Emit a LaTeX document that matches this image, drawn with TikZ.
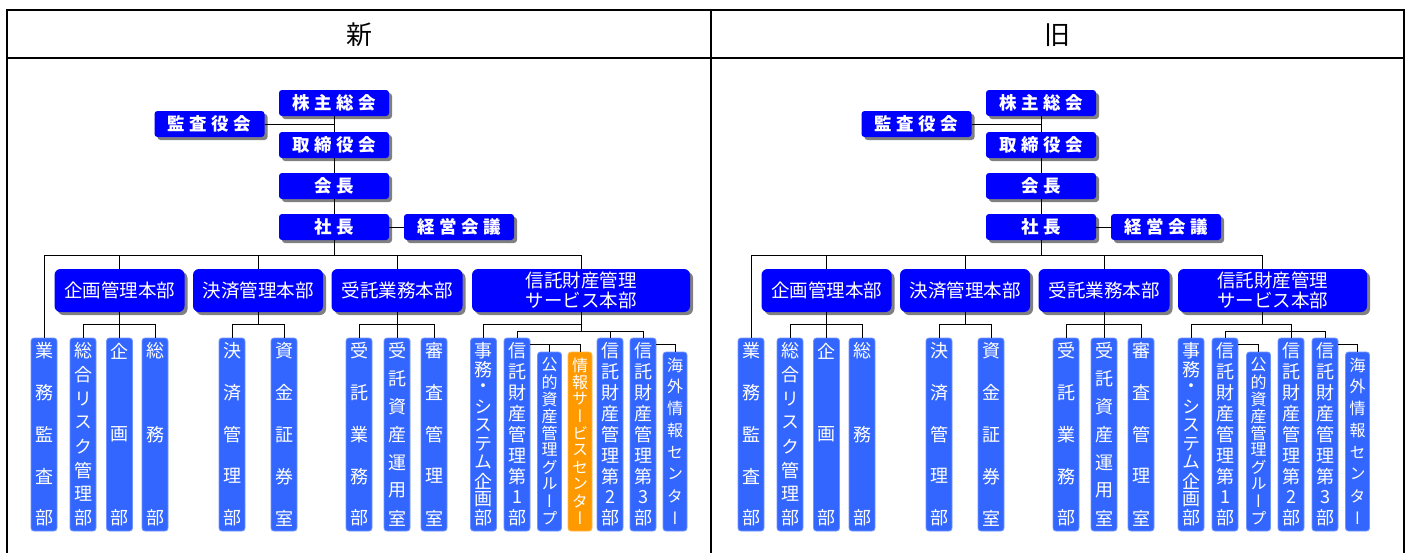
\documentclass[tikz,border=0pt]{standalone}
\usepackage{fontspec}
\setmainfont{Noto Sans CJK JP}
\newfontfamily\vjp[RawFeature=+vert]{Noto Sans CJK JP}
\usetikzlibrary{shadows}
\definecolor{hqc}{RGB}{0,0,255}
\definecolor{leafc}{RGB}{51,102,255}
\definecolor{orangec}{RGB}{255,153,0}
\definecolor{shadowc}{RGB}{128,128,128}
\newcommand{\lsp}{\hspace{4.5pt}}
\newcommand{\vstk}[2]{\vbox to #1pt{\offinterlineskip\foreach \ch [count=\ci] in {#2}{\ifnum\ci>1 \vfill\fi\vbox to 0pt{\vss\hbox to 0pt{\hss\ch\hss}\vss}}}}
\tikzset{
  shad/.style={general shadow={shadow xshift=3pt, shadow yshift=-3pt, fill=shadowc}},
  topbox/.style={shad, fill=hqc, text=white, rounded corners=3pt, minimum width=110pt, minimum height=26pt, inner sep=0pt, font=\bfseries\fontsize{17.5}{20}\selectfont},
  hqbox/.style={shad, fill=hqc, text=white, rounded corners=6pt, minimum height=43pt, inner sep=0pt, align=center, font=\fontsize{18.5}{20}\selectfont},
  leaf/.style={fill=leafc, draw=leafc!70!white, line width=0.8pt, text=white, rounded corners=3pt, minimum width=26pt, minimum height=193pt, inner sep=0pt, font={\vjp\fontsize{18}{18}\selectfont}},
  shortleaf/.style={leaf, minimum width=24pt, minimum height=179pt, font={\vjp\fontsize{16}{16}\selectfont}},
  conn/.style={draw=black, line width=1pt},
  framel/.style={draw=black, line width=2pt},
  title/.style={font=\fontsize{26}{26}\selectfont}
}
\begin{document}
\begin{tikzpicture}[x=1pt, y=-1pt]
\useasboundingbox (0,0) rectangle (1412,552);
% frame
\draw[framel] (7,570) -- (7,10) -- (1404,10) -- (1404,570);
\draw[framel] (7,58) -- (1404,58);
\draw[framel] (711,10) -- (711,570);
\node[title] (titleL) at (359,35) {新};
\node[title] (titleR) at (1057,35) {旧};
\coordinate (busL) at (334,255);
\coordinate (subL) at (0,324);
\coordinate (sub2L) at (0,331);
\coordinate (sub3L) at (0,344);
\coordinate (busR) at (1041,255);
\coordinate (dropR) at (1262,0);
% ===== left panel =====
\node[topbox] (kabuL) at (334,103) {株\lsp 主\lsp 総\lsp 会};
\node[topbox] (kansaL) at (209.5,124) {監\lsp 査\lsp 役\lsp 会};
\node[topbox] (toriL) at (334,145) {取\lsp 締\lsp 役\lsp 会};
\node[topbox] (kaichoL) at (334,186) {会\lsp 長};
\node[topbox] (shachoL) at (334,227) {社\lsp 長};
\node[topbox] (keieiL) at (459,227) {経\lsp 営\lsp 会\lsp 議};
\node[hqbox, minimum width=130pt] (kikakuL) at (119.5,290.5) {企画管理本部};
\node[hqbox, minimum width=130pt] (kessaiL) at (258,290.5) {決済管理本部};
\node[hqbox, minimum width=131pt] (jutakuL) at (397,290.5) {受託業務本部};
\node[hqbox, minimum width=218pt] (shintakuL) at (581,290.5) {信託財産管理\\サービス本部};
\node[leaf] (gyomuL) at (44,434.5) {\vstk{167}{業,務,監,査,部}};
\node[leaf] (sogoL) at (83,434.5) {\vstk{167}{総,合,リ,ス,ク,管,理,部}};
\node[leaf] (kikakubuL) at (119.5,434.5) {\vstk{167}{企,画,部}};
\node[leaf] (somuL) at (155,434.5) {\vstk{167}{総,務,部}};
\node[leaf] (kessaibuL) at (232,434.5) {\vstk{167}{決,済,管,理,部}};
\node[leaf] (shikinL) at (284,434.5) {\vstk{167}{資,金,証,券,室}};
\node[leaf] (jutakubuL) at (359,434.5) {\vstk{167}{受,託,業,務,部}};
\node[leaf] (unyoL) at (397,434.5) {\vstk{167}{受,託,資,産,運,用,室}};
\node[leaf] (shinsaL) at (434,434.5) {\vstk{167}{審,査,管,理,室}};
\node[leaf] (jimuL) at (483.5,434.5) {\vstk{167}{事,務,・,シ,ス,テ,ム,企,画,部}};
\node[leaf] (t1L) at (517,434.5) {\vstk{167}{信,託,財,産,管,理,第,1,部}};
\node[shortleaf] (kotekiL) at (549.5,441.5) {\vstk{153}{公,的,資,産,管,理,グ,ル,ー,プ}};
\node[shortleaf, fill=orangec, draw=orangec!70!white] (johoL) at (580,441.5) {\vstk{153}{情,報,サ,ー,ビ,ス,セ,ン,タ,ー}};
\node[leaf] (t2L) at (610,434.5) {\vstk{167}{信,託,財,産,管,理,第,2,部}};
\node[leaf] (t3L) at (643,434.5) {\vstk{167}{信,託,財,産,管,理,第,3,部}};
\node[shortleaf] (kaigaiL) at (675,441.5) {\vstk{153}{海,外,情,報,セ,ン,タ,ー}};
% connectors left
\draw[conn] (kansaL.east) -- (kansaL.east -| kabuL.south);
\draw[conn] (kabuL.south) -- (toriL.north);
\draw[conn] (toriL.south) -- (kaichoL.north);
\draw[conn] (kaichoL.south) -- (shachoL.north);
\draw[conn] (shachoL.east) -- (keieiL.west);
\draw[conn] (shachoL.south) -- (busL);
\draw[conn] (gyomuL.north) -- (gyomuL.north |- busL) -- (shintakuL.north |- busL) -- (shintakuL.north);
\draw[conn] (kikakuL.north) -- (kikakuL.north |- busL);
\draw[conn] (kessaiL.north) -- (kessaiL.north |- busL);
\draw[conn] (jutakuL.north) -- (jutakuL.north |- busL);
\draw[conn] (kikakuL.south) -- (kikakubuL.north);
\draw[conn] (sogoL.north) -- (sogoL.north |- subL) -- (somuL.north |- subL) -- (somuL.north);
\draw[conn] (kessaiL.south) -- (kessaiL.south |- subL);
\draw[conn] (kessaibuL.north) -- (kessaibuL.north |- subL) -- (shikinL.north |- subL) -- (shikinL.north);
\draw[conn] (jutakuL.south) -- (unyoL.north);
\draw[conn] (jutakubuL.north) -- (jutakubuL.north |- subL) -- (shinsaL.north |- subL) -- (shinsaL.north);
\draw[conn] (shintakuL.south) -- (shintakuL.south |- sub2L);
\draw[conn] (jimuL.north) -- (jimuL.north |- subL) -- (shintakuL.south |- subL);
\draw[conn] (t1L.north) -- (t1L.north |- sub2L) -- (t3L.north |- sub2L) -- (t3L.north);
\draw[conn] (t2L.north) -- (t2L.north |- sub2L);
\draw[conn] (t1L.east |- sub3L) -- (johoL.north |- sub3L) -- (johoL.north);
\draw[conn] (kotekiL.north) -- (kotekiL.north |- sub3L);
\draw[conn] (t3L.east |- sub3L) -- (kaigaiL.north |- sub3L) -- (kaigaiL.north);
% ===== right panel =====
\node[topbox] (kabuR) at (1041,103) {株\lsp 主\lsp 総\lsp 会};
\node[topbox] (kansaR) at (916.5,124) {監\lsp 査\lsp 役\lsp 会};
\node[topbox] (toriR) at (1041,145) {取\lsp 締\lsp 役\lsp 会};
\node[topbox] (kaichoR) at (1041,186) {会\lsp 長};
\node[topbox] (shachoR) at (1041,227) {社\lsp 長};
\node[topbox] (keieiR) at (1166,227) {経\lsp 営\lsp 会\lsp 議};
\node[hqbox, minimum width=130pt] (kikakuR) at (826.5,290.5) {企画管理本部};
\node[hqbox, minimum width=130pt] (kessaiR) at (965,290.5) {決済管理本部};
\node[hqbox, minimum width=131pt] (jutakuR) at (1104,290.5) {受託業務本部};
\node[hqbox, minimum width=189pt] (shintakuR) at (1272.5,290.5) {信託財産管理\\サービス本部};
\node[leaf] (gyomuR) at (751,434.5) {\vstk{167}{業,務,監,査,部}};
\node[leaf] (sogoR) at (790,434.5) {\vstk{167}{総,合,リ,ス,ク,管,理,部}};
\node[leaf] (kikakubuR) at (826.5,434.5) {\vstk{167}{企,画,部}};
\node[leaf] (somuR) at (862,434.5) {\vstk{167}{総,務,部}};
\node[leaf] (kessaibuR) at (939,434.5) {\vstk{167}{決,済,管,理,部}};
\node[leaf] (shikinR) at (991,434.5) {\vstk{167}{資,金,証,券,室}};
\node[leaf] (jutakubuR) at (1066,434.5) {\vstk{167}{受,託,業,務,部}};
\node[leaf] (unyoR) at (1104,434.5) {\vstk{167}{受,託,資,産,運,用,室}};
\node[leaf] (shinsaR) at (1141,434.5) {\vstk{167}{審,査,管,理,室}};
\node[leaf] (jimuR) at (1191,434.5) {\vstk{167}{事,務,・,シ,ス,テ,ム,企,画,部}};
\node[leaf] (t1R) at (1225,434.5) {\vstk{167}{信,託,財,産,管,理,第,1,部}};
\node[shortleaf] (kotekiR) at (1258.5,441.5) {\vstk{153}{公,的,資,産,管,理,グ,ル,ー,プ}};
\node[leaf] (t2R) at (1291,434.5) {\vstk{167}{信,託,財,産,管,理,第,2,部}};
\node[leaf] (t3R) at (1325,434.5) {\vstk{167}{信,託,財,産,管,理,第,3,部}};
\node[shortleaf] (kaigaiR) at (1357.5,441.5) {\vstk{153}{海,外,情,報,セ,ン,タ,ー}};
% connectors right
\draw[conn] (kansaR.east) -- (kansaR.east -| kabuR.south);
\draw[conn] (kabuR.south) -- (toriR.north);
\draw[conn] (toriR.south) -- (kaichoR.north);
\draw[conn] (kaichoR.south) -- (shachoR.north);
\draw[conn] (shachoR.east) -- (keieiR.west);
\draw[conn] (shachoR.south) -- (busR);
\draw[conn] (gyomuR.north) -- (gyomuR.north |- busR) -- (dropR |- busR) -- (dropR |- shintakuR.north);
\draw[conn] (kikakuR.north) -- (kikakuR.north |- busR);
\draw[conn] (kessaiR.north) -- (kessaiR.north |- busR);
\draw[conn] (jutakuR.north) -- (jutakuR.north |- busR);
\draw[conn] (kikakuR.south) -- (kikakubuR.north);
\draw[conn] (sogoR.north) -- (sogoR.north |- subL) -- (somuR.north |- subL) -- (somuR.north);
\draw[conn] (kessaiR.south) -- (kessaiR.south |- subL);
\draw[conn] (kessaibuR.north) -- (kessaibuR.north |- subL) -- (shikinR.north |- subL) -- (shikinR.north);
\draw[conn] (jutakuR.south) -- (unyoR.north);
\draw[conn] (jutakubuR.north) -- (jutakubuR.north |- subL) -- (shinsaR.north |- subL) -- (shinsaR.north);
\draw[conn] (dropR |- shintakuR.south) -- (dropR |- subL);
\draw[conn] (jimuR.north) -- (jimuR.north |- subL) -- (t2R.north |- subL) -- (t2R.north);
\draw[conn] (t1R.north) -- (t1R.north |- sub2L) -- (t3R.north |- sub2L) -- (t3R.north);
\draw[conn] (t1R.east |- sub3L) -- (kotekiR.north |- sub3L) -- (kotekiR.north);
\draw[conn] (t3R.east |- sub3L) -- (kaigaiR.north |- sub3L) -- (kaigaiR.north);
\end{tikzpicture}
\end{document}
